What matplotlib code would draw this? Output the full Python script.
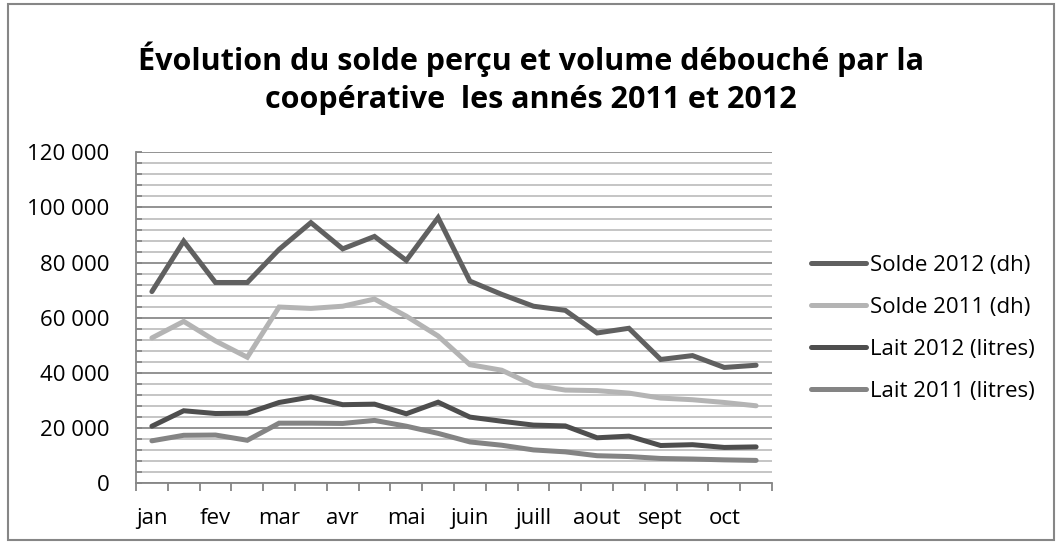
import matplotlib
matplotlib.use("Agg")
import matplotlib.pyplot as plt
from matplotlib.patches import Rectangle
from matplotlib.ticker import MultipleLocator, FuncFormatter
from matplotlib.lines import Line2D

plt.rcParams['font.family'] = ['Open Sans', 'DejaVu Sans']

categories = ["jan", "", "fev", "", "mar", "", "avr", "", "mai", "",
              "juin", "", "juill", "", "aout", "", "sept", "", "oct", ""]
solde_2012 = [69500, 87800, 72800, 72800, 84800, 94500, 85000, 89500, 80800, 96300,
              73300, 68500, 64200, 62700, 54500, 56200, 44900, 46300, 42000, 42800]
solde_2011 = [52700, 58700, 51600, 45700, 63900, 63400, 64200, 66800, 60600, 53400,
              43000, 41000, 35600, 33800, 33600, 32700, 30900, 30300, 29300, 28100]
lait_2012 = [20700, 26300, 25300, 25400, 29300, 31300, 28500, 28700, 25200, 29400,
             24000, 22500, 21100, 20800, 16500, 17100, 13700, 14000, 13000, 13200]
lait_2011 = [15400, 17400, 17500, 15600, 21800, 21800, 21700, 22800, 20700, 18100,
             15000, 13800, 12100, 11400, 10000, 9700, 9000, 8800, 8500, 8300]
series_names = ["Solde 2012 (dh)", "Solde 2011 (dh)", "Lait 2012 (litres)", "Lait 2011 (litres)"]
series_colors = ["#606060", "#b4b4b4", "#4e4e4e", "#848484"]

W, H = 1062, 544
fig = plt.figure(figsize=(W / 100, H / 100), dpi=100)
fig.patches.append(Rectangle((8 / W, 4 / H), 1046 / W, 536 / H, transform=fig.transFigure,
                             fill=False, edgecolor="#868686", linewidth=1.5))

ax = fig.add_axes([136 / W, 1 - 483.3 / H, 636 / W, 331 / H])
x = list(range(len(categories)))
for vals, name, col in zip([solde_2012, solde_2011, lait_2012, lait_2011], series_names, series_colors):
    ax.plot(x, vals, color=col, linewidth=3.6, solid_joinstyle='miter', solid_capstyle='round', label=name)

ax.set_xlim(-0.5, len(categories) - 0.5)
ax.set_ylim(0, 120000)
ax.yaxis.set_major_locator(MultipleLocator(20000))
ax.yaxis.set_minor_locator(MultipleLocator(4000))
ax.yaxis.set_major_formatter(FuncFormatter(lambda v, p: f"{int(v):,}".replace(",", " ")))
ax.grid(axis='y', which='minor', color="#c0c0c0", linewidth=1.3)
ax.grid(axis='y', which='major', color="#8a8a8a", linewidth=1.3)
ax.set_axisbelow(True)

ax.set_xticks([i - 0.5 for i in range(len(categories) + 1)], minor=False)
ax.set_xticklabels([])
ax.set_xticks(x, minor=True)
ax.set_xticklabels(categories, minor=True, fontsize=16)
ax.tick_params(axis='x', which='minor', length=0, pad=18)
ax.tick_params(axis='x', which='major', length=6, color="#868686", width=1.3, direction='out')
ax.tick_params(axis='y', which='both', length=4, color="#868686", width=1.3, direction='in',
               labelsize=16, pad=19)

for s in ['top', 'right']:
    ax.spines[s].set_visible(False)
for s in ['left', 'bottom']:
    ax.spines[s].set_color("#868686")
    ax.spines[s].set_linewidth(1.3)

handles = [Line2D([0], [0], color=c, linewidth=3.6, solid_capstyle='round') for c in series_colors]
fig.legend(handles, series_names, loc='upper left', bbox_to_anchor=(802 / W, 1 - 246 / H),
           frameon=False, fontsize=16, handlelength=2.5, handletextpad=0.15, labelspacing=0.95,
           borderaxespad=0)

fig.text(0.5, 1 - 59 / H, "Évolution du solde perçu et volume débouché par la",
         ha='center', va='center', fontsize=22, fontweight='bold')
fig.text(0.5, 1 - 100 / H, "coopérative  les annés 2011 et 2012",
         ha='center', va='center', fontsize=22, fontweight='bold')

fig.savefig("out.png", dpi=100)
